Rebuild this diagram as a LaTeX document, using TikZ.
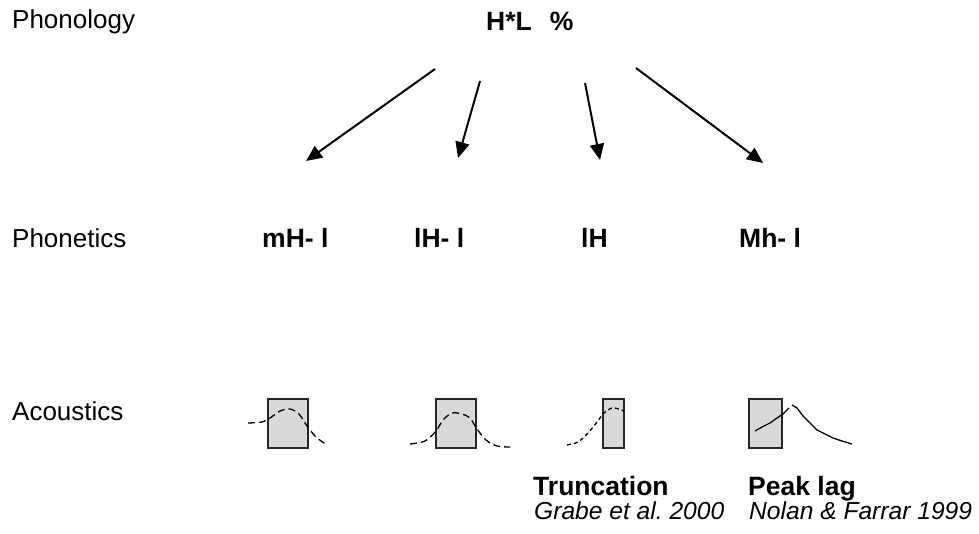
\documentclass[tikz,border=0pt]{standalone}
\usepackage{fontspec}
\setmainfont{Liberation Sans}
\usetikzlibrary{arrows.meta}
\frenchspacing

\tikzset{
  rowlabel/.style={anchor=base west, inner sep=0pt, font=\fontsize{26}{30}\selectfont},
  tonelabel/.style={anchor=base west, inner sep=0pt, font=\fontsize{26.5}{30}\selectfont\bfseries},
  citation/.style={anchor=base west, inner sep=0pt, font=\fontsize{24.6}{28}\selectfont\itshape},
  mapping/.style={line width=2pt, -{Triangle[length=16pt,width=14pt]}},
  window/.style={fill=black!15, draw=black!85, line width=1.6pt},
  contour/.style={line width=1.3pt, black},
}

\begin{document}
\begin{tikzpicture}[x=1pt, y=-1pt]
  \useasboundingbox (0,0) rectangle (979,533);

  % row labels
  \node[rowlabel] (phonology) at (12,28)  {Phonology};
  \node[rowlabel] (phonetics) at (12,247) {Phonetics};
  \node[rowlabel] (acoustics) at (12,420) {Acoustics};

  % phonological category
  \node[tonelabel] (hl) at (486,30) {H*L\hspace{18pt}\%};

  % phonetic realisations
  \node[tonelabel] (mhl) at (262,247) {mH- l};
  \node[tonelabel] (lhl) at (414,247) {lH- l};
  \node[tonelabel] (lh)  at (581,247) {lH};
  \node[tonelabel] (mhh) at (739,247) {Mh- l};

  % arrow end points
  \coordinate (s1) at (435,69);  \coordinate (e1) at (306,161);
  \coordinate (s2) at (480,81);  \coordinate (e2) at (458,158);
  \coordinate (s3) at (585,83);  \coordinate (e3) at (600,160);
  \coordinate (s4) at (636,68);  \coordinate (e4) at (763,163);
  \draw[mapping] (s1) -- (e1);
  \draw[mapping] (s2) -- (e2);
  \draw[mapping] (s3) -- (e3);
  \draw[mapping] (s4) -- (e4);

  % acoustic schemata: shaded window and F0 contour
  \draw[window] (268,399) rectangle (308,448);
  \draw[contour, dash pattern=on 7pt off 4pt] plot[smooth] coordinates
    {(248,423) (262,422) (270,418) (280,411) (290,409) (299,414) (307,426) (316,437) (327,445)};

  \draw[window] (436,399) rectangle (476,448);
  \draw[contour, dash pattern=on 7pt off 4pt] plot[smooth] coordinates
    {(410,444) (425,441) (436,431) (443,420) (452,413) (462,414) (470,418) (477,429) (486,440) (497,446) (510,447)};

  \draw[window] (603,399) rectangle (624,448);
  \draw[contour, dash pattern=on 4pt off 3pt] plot[smooth] coordinates
    {(567,445) (578,442) (588,433) (597,422) (604,413) (612,408) (619,409) (624,411)};

  \draw[window] (749,399) rectangle (782,448);
  \draw[contour] plot coordinates
    {(755,431) (762,427) (770,423) (777,418) (783,414) (789,408)};
  \draw[contour] plot coordinates
    {(792,405) (797,408) (803,416) (810,423) (817,430) (825,434) (833,438) (842,441) (852,444)};

  % effect names and sources
  \node[tonelabel] (trunc) at (533,495) {Truncation};
  \node[tonelabel] (peak)  at (748,495) {Peak lag};
  \node[citation]  (grabe) at (534,519) {Grabe et al. 2000};
  \node[citation]  (nolan) at (749,519) {Nolan \& Farrar 1999};
\end{tikzpicture}
\end{document}
